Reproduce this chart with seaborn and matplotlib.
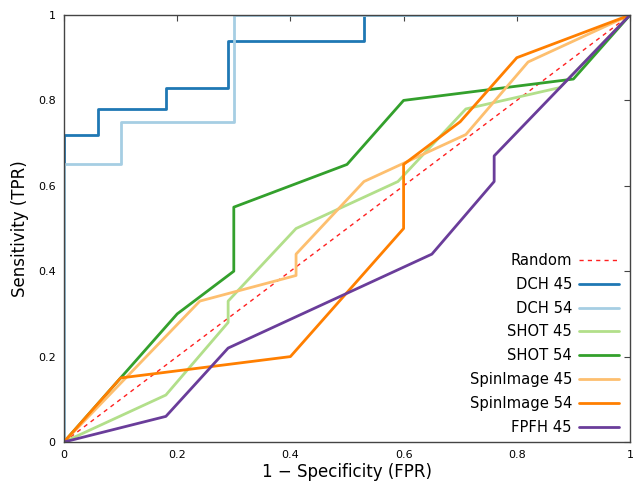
import matplotlib
matplotlib.use("Agg")
import matplotlib.pyplot as plt
import seaborn as sns
import pandas as pd

names = ["DCH 45", "DCH 54", "SHOT 45", "SHOT 54", "SpinImage 45", "SpinImage 54", "FPFH 45"]
colors = ["#1f78b4", "#a6cee3", "#b2df8a", "#33a02c", "#fdbf6f", "#ff7f00", "#6a3d9a"]

dch45_x = [0, 0, 0.06, 0.06, 0.18, 0.18, 0.29, 0.29, 0.53, 0.53, 1.0]
dch45_y = [0, 0.72, 0.72, 0.78, 0.78, 0.83, 0.83, 0.94, 0.94, 1.0, 1.0]
dch54_x = [0, 0, 0.10, 0.10, 0.30, 0.30, 1.0]
dch54_y = [0, 0.65, 0.65, 0.75, 0.75, 1.0, 1.0]
shot45_x = [0, 0.18, 0.29, 0.29, 0.41, 0.59, 0.71, 0.876, 1.0]
shot45_y = [0, 0.11, 0.28, 0.33, 0.50, 0.61, 0.78, 0.83, 1.0]
shot54_x = [0, 0.20, 0.30, 0.30, 0.50, 0.60, 0.90, 1.0]
shot54_y = [0, 0.30, 0.40, 0.55, 0.65, 0.80, 0.85, 1.0]
spin45_x = [0, 0.24, 0.41, 0.41, 0.53, 0.71, 0.82, 1.0]
spin45_y = [0, 0.33, 0.39, 0.44, 0.61, 0.72, 0.89, 1.0]
spin54_x = [0, 0.10, 0.40, 0.60, 0.60, 0.70, 0.80, 1.0]
spin54_y = [0, 0.15, 0.20, 0.50, 0.65, 0.75, 0.90, 1.0]
fpfh45_x = [0, 0.18, 0.29, 0.65, 0.76, 0.76, 1.0]
fpfh45_y = [0, 0.06, 0.22, 0.44, 0.61, 0.67, 1.0]

random_x = [0, 1]
random_y = [0, 1]

series = [(dch45_x, dch45_y), (dch54_x, dch54_y), (shot45_x, shot45_y),
          (shot54_x, shot54_y), (spin45_x, spin45_y), (spin54_x, spin54_y),
          (fpfh45_x, fpfh45_y)]

sns.set_style("white")
plt.rcParams['font.family'] = ['DejaVu Sans']
plt.rcParams['text.color'] = 'black'
plt.rcParams['axes.labelcolor'] = 'black'

fig = plt.figure(figsize=(6.35, 4.82), dpi=100)
ax = fig.add_axes([64/635, 40/482, 566/635, 427/482])

ax.plot(random_x, random_y, color="#ff2020", linestyle=(0, (3, 3)), linewidth=1.0, label="Random")
for name, col, (xs, ys) in zip(names, colors, series):
    df = pd.DataFrame({"x": xs, "y": ys})
    sns.lineplot(data=df, x="x", y="y", sort=False, estimator=None, color=col,
                 linewidth=2.0, label=name, ax=ax)

ax.set_xlim(0, 1)
ax.set_ylim(0, 1)
ticks = [0, 0.2, 0.4, 0.6, 0.8, 1.0]
tlabels = ["0", "0.2", "0.4", "0.6", "0.8", "1"]
ax.set_xticks(ticks)
ax.set_xticklabels(tlabels)
ax.set_yticks(ticks)
ax.set_yticklabels(tlabels)
ax.tick_params(direction="in", length=4, width=0.8, colors="#444444", labelcolor="black",
               labelsize=8, top=True, right=True, pad=6)
for s in ax.spines.values():
    s.set_color("#444444")
    s.set_linewidth(1.0)

ax.set_xlabel("1 \u2212 Specificity (FPR)", fontsize=12, labelpad=2, color="black")
ax.set_ylabel("Sensitivity (TPR)", fontsize=12, labelpad=6.5, color="black")

leg = ax.legend(loc="lower right", bbox_to_anchor=(0.991, 0.003), borderaxespad=0,
                frameon=False, markerfirst=False, fontsize=10.6,
                handlelength=2.7, labelspacing=0.6, handletextpad=0.5)
for t in leg.get_texts():
    t.set_color("black")

fig.savefig("out.png", dpi=100)
